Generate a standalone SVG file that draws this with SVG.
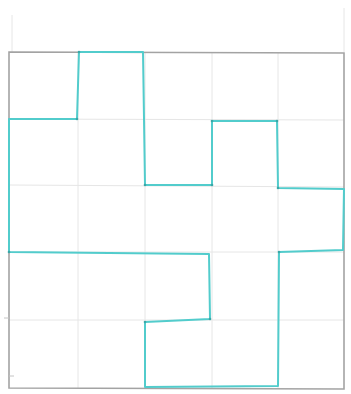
<svg xmlns="http://www.w3.org/2000/svg" width="351" height="394" viewBox="0 0 351 394">
  <style>
    .bg { fill: #ffffff; }
    .faint { stroke: #e6e6e6; stroke-width: 1; fill: none; }
    .outer { stroke: #a3a3a3; stroke-width: 1.6; fill: none; stroke-linecap: round; }
    .tick { stroke: #c4c4c4; stroke-width: 1; fill: none; }
    .shape { stroke: #52cccc; stroke-width: 2; fill: none; stroke-linejoin: round; stroke-linecap: round; }
    .dot { fill: #3aa7a7; }
  </style>
  <rect class="bg" x="0" y="0" width="351" height="394"/>
  <g id="grid">
    <line class="faint" x1="78" y1="52" x2="78" y2="388"/>
    <line class="faint" x1="145" y1="52" x2="145" y2="388"/>
    <line class="faint" x1="212" y1="52" x2="212" y2="388"/>
    <line class="faint" x1="278" y1="52" x2="278" y2="388"/>
    <line class="faint" x1="9" y1="119" x2="344" y2="120"/>
    <line class="faint" x1="9" y1="185" x2="344" y2="187"/>
    <line class="faint" x1="9" y1="252" x2="344" y2="252"/>
    <line class="faint" x1="9" y1="320" x2="344" y2="320"/>
    <line class="faint" x1="12" y1="15" x2="12" y2="52"/>
    <line class="faint" x1="344" y1="8" x2="344" y2="52"/>
  </g>
  <g id="outline">
    <path class="outer" d="M9,52 L344,53 L344,389 L9,388 Z"/>
    <line class="tick" x1="4" y1="318" x2="9" y2="318"/>
    <line class="tick" x1="9" y1="376" x2="14" y2="376"/>
  </g>
  <g id="figure">
    <path class="shape" d="M79,52 L143,52 L145,185 L212,185 L212,121 L277,121 L278,188 L344,189 L343,250 L279,252 L278,386 L145,387 L145,322 L210,319 L209,254 L9,252 L9,119 L77,119 Z"/>
    <circle class="dot" cx="79" cy="52" r="1.3"/>
    <circle class="dot" cx="145" cy="185" r="1.3"/>
    <circle class="dot" cx="212" cy="185" r="1.3"/>
    <circle class="dot" cx="212" cy="121" r="1.3"/>
    <circle class="dot" cx="277" cy="121" r="1.3"/>
    <circle class="dot" cx="278" cy="188" r="1.3"/>
    <circle class="dot" cx="279" cy="252" r="1.3"/>
    <circle class="dot" cx="145" cy="322" r="1.3"/>
    <circle class="dot" cx="210" cy="319" r="1.3"/>
    <circle class="dot" cx="9" cy="252" r="1.3"/>
    <circle class="dot" cx="77" cy="119" r="1.3"/>
  </g>
</svg>
